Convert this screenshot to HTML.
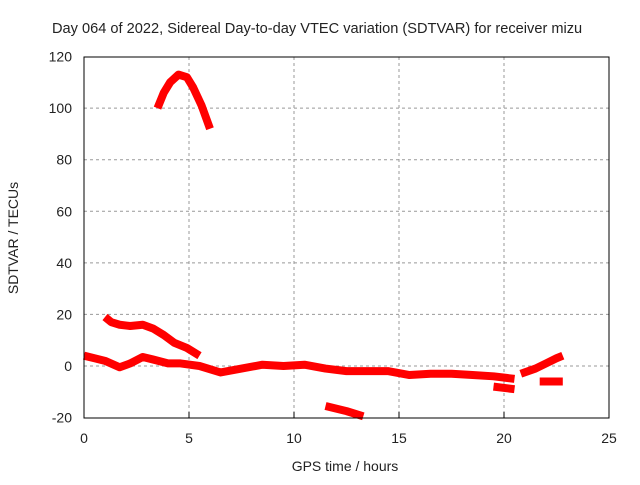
<!DOCTYPE html>
<html><head><style>
body{margin:0;background:#fff;font-family:"Liberation Sans",sans-serif}
text{font-family:"Liberation Sans",sans-serif;font-size:14px;fill:#222}
</style></head><body>
<svg id="c" width="640" height="480">
<text x="52" y="33" style="font-size:14.6px">Day 064 of 2022, Sidereal Day-to-day VTEC variation (SDTVAR) for receiver mizu</text>
<text x="345" y="471" text-anchor="middle">GPS time / hours</text>
<text transform="translate(18,238) rotate(-90)" text-anchor="middle">SDTVAR / TECUs</text>
<g id="grid"></g><g id="series"></g>
<rect x="84" y="57" width="525" height="361" fill="none" stroke="#000" stroke-width="1"/>
</svg>
<script>
const xTicks=[0,5,10,15,20,25];
const yTicks=[-20,0,20,40,60,80,100,120];
const seg1=[[3.5,100],[3.8,106],[4.1,110],[4.5,113],[4.9,112],[5.2,108],[5.6,101],[6.0,92]];
const seg2=[[1.0,19],[1.3,17],[1.7,16],[2.2,15.5],[2.8,16],[3.3,14.5],[3.8,12],[4.3,9],[4.9,7],[5.5,4]];
const seg3=[[0,4],[0.5,3],[1,2],[1.7,-0.5],[2.2,1],[2.8,3.5],[3.3,2.5],[4,1],[4.6,1],[5.5,0],[6.5,-2.5],[7.5,-1],[8.5,0.5],[9.5,0],[10.5,0.5],[11.5,-1],[12.5,-2],[13.5,-2],[14.5,-2],[15.5,-3.5],[16.5,-3],[17.5,-3],[18.5,-3.5],[19.5,-4],[20.5,-5]];
const seg4=[[11.5,-15.5],[12.5,-17.5],[13.3,-19.5]];
const seg5=[[19.5,-8],[20.5,-9]];
const seg6=[[20.8,-3],[21.5,-1],[22,1],[22.5,3],[22.8,4]];
const seg7=[[21.7,-6],[22.8,-6]];
const segs=[seg1,seg2,seg3,seg4,seg5,seg6,seg7];
const X=v=>84+v*21, Y=v=>366-v*(361/140);
const NS="http://www.w3.org/2000/svg";
const g=document.getElementById('grid'), s=document.getElementById('series');
xTicks.forEach(t=>{
 if(t>0&&t<25){const l=document.createElementNS(NS,'line');l.setAttribute('x1',X(t));l.setAttribute('x2',X(t));l.setAttribute('y1',57);l.setAttribute('y2',418);l.setAttribute('stroke','#999');l.setAttribute('stroke-dasharray','3,3');
 
 g.appendChild(l);}
 const k=document.createElementNS(NS,'line');k.setAttribute('x1',X(t));k.setAttribute('x2',X(t));k.setAttribute('y1',418);k.setAttribute('y2',412);k.setAttribute('stroke','#000');g.appendChild(k);
 const tx=document.createElementNS(NS,'text');tx.setAttribute('x',X(t));tx.setAttribute('y',443);tx.setAttribute('text-anchor','middle');tx.textContent=t;
 
 g.appendChild(tx);
});
yTicks.forEach(t=>{
 if(t>-20&&t<120){const l=document.createElementNS(NS,'line');l.setAttribute('x1',84);l.setAttribute('x2',609);l.setAttribute('y1',Y(t));l.setAttribute('y2',Y(t));l.setAttribute('stroke','#999');l.setAttribute('stroke-dasharray','3,3');
 
 g.appendChild(l);}
 const tx=document.createElementNS(NS,'text');tx.setAttribute('x',72);tx.setAttribute('y',Y(t)+5);tx.setAttribute('text-anchor','end');tx.textContent=t;
 
 g.appendChild(tx);
});
segs.forEach(sg=>{
 const p=document.createElementNS(NS,'polyline');
 p.setAttribute('points',sg.map(d=>X(d[0])+','+Y(d[1])).join(' '));
 p.setAttribute('fill','none');p.setAttribute('stroke','#f00');p.setAttribute('stroke-width','8');p.setAttribute('stroke-linejoin','round');
 
 
 s.appendChild(p);
});
</script>
</body></html>
